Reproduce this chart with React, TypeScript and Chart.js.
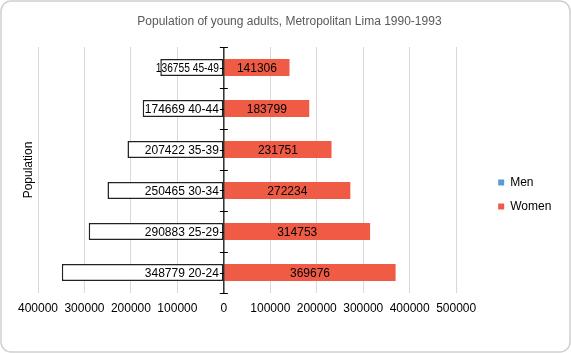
import React, { useEffect, useRef } from "react";
import { Chart, registerables } from "chart.js";

Chart.register(...registerables);

const titleText = "Population of young adults, Metropolitan Lima 1990-1993";
const categories = ["20-24", "25-29", "30-34", "35-39", "40-44", "45-49"];
const menValues = [348779, 290883, 250465, 207422, 174669, 136755];
const womenValues = [369676, 314753, 272234, 231751, 183799, 141306];
const xTickValues = [-400000, -300000, -200000, -100000, 0, 100000, 200000, 300000, 400000, 500000];
const seriesNames = ["Men", "Women"];
const menLegendColor = "#5B9BD5";
const womenColor = "#F05B46";

const FONT = "Liberation Sans, Arial, sans-serif";

const frame = {
  id: "frame",
  beforeDraw(chart: any) {
    const { ctx, width, height } = chart;
    ctx.save();
    ctx.fillStyle = "#fff";
    ctx.fillRect(0, 0, width, height);
    ctx.strokeStyle = "#d0d0d0";
    ctx.lineWidth = 1.5;
    ctx.beginPath();
    ctx.roundRect(1, 1, width - 2, height - 2, 10);
    ctx.stroke();
    ctx.restore();
  },
};

const pyramidDecor = {
  id: "pyramidDecor",
  afterDatasetsDraw(chart: any) {
    const { ctx, chartArea, scales } = chart;
    const x0 = scales.x.getPixelForValue(0);
    const yScale = scales.y;
    ctx.save();
    ctx.strokeStyle = "#000";
    ctx.lineWidth = 1.2;
    ctx.beginPath();
    ctx.moveTo(x0, chartArea.top);
    ctx.lineTo(x0, chartArea.bottom);
    ctx.stroke();
    const n = categories.length;
    const step = (chartArea.bottom - chartArea.top) / n;
    ctx.lineWidth = 1;
    for (let k = 0; k <= n; k++) {
      const y = Math.round(chartArea.top + k * step) + 0.5;
      ctx.beginPath();
      ctx.moveTo(x0 - 4, y);
      ctx.lineTo(x0 + 4, y);
      ctx.stroke();
    }
    for (let i = 0; i < n; i++) {
      const y = Math.round(yScale.getPixelForValue(i)) + 0.5;
      ctx.beginPath();
      ctx.moveTo(x0 - 4, y);
      ctx.lineTo(x0, y);
      ctx.stroke();
    }
    const menMeta = chart.getDatasetMeta(0);
    const womenMeta = chart.getDatasetMeta(1);
    ctx.font = `12px ${FONT}`;
    ctx.fillStyle = "#000";
    ctx.textBaseline = "middle";
    for (let i = 0; i < n; i++) {
      const m = menMeta.data[i];
      const w = womenMeta.data[i];
      const barW = Math.abs(m.base - m.x);
      ctx.textAlign = "right";
      ctx.fillText(`${menValues[i]} ${categories[i]}`, x0 - 5, m.y + 1, barW);
      ctx.textAlign = "center";
      ctx.fillText(`${womenValues[i]}`, (w.base + w.x) / 2, w.y + 1);
    }
    ctx.restore();
  },
};

export default function App() {
  const ref = useRef<HTMLCanvasElement | null>(null);
  useEffect(() => {
    if (!ref.current) return;
    Chart.defaults.font.family = FONT;
    Chart.defaults.font.size = 12;
    Chart.defaults.color = "#000";
    const chart = new Chart(ref.current, {
      type: "bar",
      data: {
        labels: categories,
        datasets: [
          {
            label: seriesNames[0],
            data: menValues.map((v) => -v),
            backgroundColor: "#ffffff",
            borderColor: "#222222",
            borderWidth: 1.5,
            borderSkipped: false,
            barPercentage: 0.42,
            categoryPercentage: 1,
          },
          {
            label: seriesNames[1],
            data: womenValues,
            backgroundColor: womenColor,
            borderWidth: 0,
            barPercentage: 0.42,
            categoryPercentage: 1,
          },
        ],
      },
      options: {
        animation: false,
        responsive: true,
        maintainAspectRatio: false,
        indexAxis: "y",
        layout: { padding: { left: 17.6, right: 9.7, top: 0, bottom: 29.6 } },
        scales: {
          x: {
            stacked: true,
            min: -400000,
            max: 564600,
            afterBuildTicks: (scale: any) => {
              scale.ticks = xTickValues.map((v) => ({ value: v }));
            },
            ticks: {
              autoSkip: false,
              maxRotation: 0,
              padding: 8,
              color: "#000",
              font: { size: 12, family: FONT },
              callback: (v: any) => String(Math.abs(Number(v))),
            },
            grid: { color: "#d9d9d9", drawTicks: false, lineWidth: 1 },
            border: { display: false },
          },
          y: {
            stacked: true,
            reverse: true,
            ticks: { display: false },
            grid: { display: false, drawTicks: false },
            border: { display: false },
            title: {
              display: true,
              text: "Population",
              color: "#000",
              font: { size: 12, family: FONT },
              padding: { top: 4, bottom: 2 },
            },
          },
        },
        plugins: {
          title: {
            display: true,
            text: titleText,
            color: "#595959",
            font: { size: 12, weight: "normal", family: FONT },
            padding: { top: 14.8, bottom: 17.8 },
          },
          legend: {
            position: "right",
            fullSize: false,
            title: { display: true, text: "", padding: { top: 34.6, bottom: 0 }, font: { size: 12 } },
            labels: {
              boxWidth: 6,
              boxHeight: 6,
              padding: 12,
              color: "#000",
              font: { size: 12, family: FONT },
              generateLabels: () => [
                { text: seriesNames[0], fillStyle: menLegendColor, strokeStyle: menLegendColor, lineWidth: 0, datasetIndex: 0, hidden: false },
                { text: seriesNames[1], fillStyle: womenColor, strokeStyle: womenColor, lineWidth: 0, datasetIndex: 1, hidden: false },
              ],
            },
          },
          tooltip: { enabled: false },
        },
      } as any,
      plugins: [frame, pyramidDecor],
    });
    return () => chart.destroy();
  }, []);
  return (
    <div style={{ position: "absolute", left: 0, top: 0, width: 571, height: 353 }}>
      <canvas ref={ref} />
    </div>
  );
}
